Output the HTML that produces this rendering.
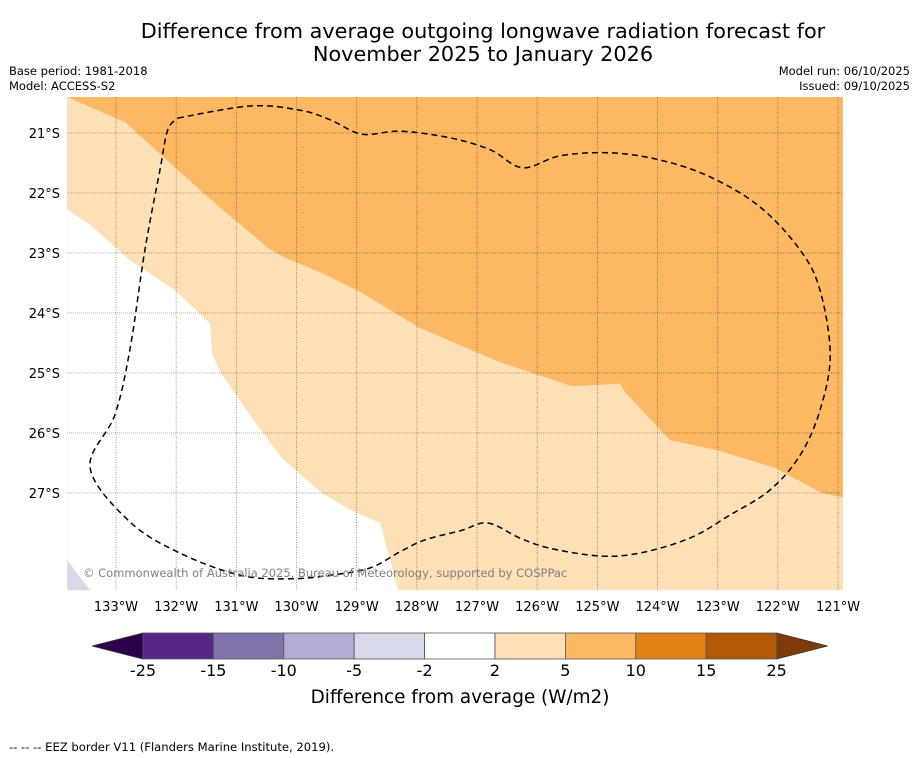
<!DOCTYPE html>
<html><head><meta charset="utf-8">
<style>
body{margin:0;background:#fff;font-family:"DejaVu Sans","Liberation Sans",sans-serif;}
svg{display:block}
</style></head>
<body>
<svg id="chart" width="919" height="758" viewBox="0 0 919 758" xmlns="http://www.w3.org/2000/svg" font-family="DejaVu Sans, Liberation Sans, sans-serif">
<text x="483" y="38" font-size="20.8" text-anchor="middle">Difference from average outgoing longwave radiation forecast for</text>
<text x="483" y="61" font-size="20.8" text-anchor="middle">November 2025 to January 2026</text>
<text x="9" y="75" font-size="11.5">Base period: 1981-2018</text>
<text x="9" y="90" font-size="11.5">Model: ACCESS-S2</text>
<text x="910" y="75" font-size="11.5" text-anchor="end">Model run: 06/10/2025</text>
<text x="910" y="90" font-size="11.5" text-anchor="end">Issued: 09/10/2025</text>
<g id="map"></g>
<g id="cbar"></g>
<text x="460" y="703" font-size="18.4" text-anchor="middle">Difference from average (W/m2)</text>
<text x="9" y="751" font-size="11.6">--  --  -- EEZ border V11 (Flanders Marine Institute, 2019).</text>
</svg>
<script>
const lonMin=-133.81, lonMax=-120.92, latTop=-20.40, latBot=-28.62;
const lonTicks=[-133,-132,-131,-130,-129,-128,-127,-126,-125,-124,-123,-122,-121];
const latTicks=[-21,-22,-23,-24,-25,-26,-27];
const orangeLon=[-133.81,-132.85,-131.52,-130.47,-130.19,-129.61,-128.94,-127.95,-126.62,-125.42,-124.62,-124.54,-123.79,-123.04,-122.05,-121.27,-120.92];
const orangeLat=[-20.40,-20.82,-22.03,-22.92,-23.08,-23.32,-23.65,-24.25,-24.82,-25.22,-25.18,-25.32,-26.12,-26.28,-26.58,-27.00,-27.07];
const whiteLon=[-133.81,-133.43,-132.77,-132.02,-131.44,-131.40,-131.27,-130.69,-130.24,-129.58,-129.11,-128.61,-128.31];
const whiteLat=[-22.28,-22.53,-23.12,-23.62,-24.17,-24.70,-24.98,-25.82,-26.42,-27.00,-27.28,-27.50,-28.62];
const lavLon=[-133.81,-133.43,-133.81];
const lavLat=[-28.12,-28.62,-28.62];
const eezLon=[-131.97,-130.77,-129.94,-129.44,-128.91,-128.28,-127.45,-126.78,-126.24,-125.62,-124.79,-123.96,-123.13,-122.30,-121.63,-121.30,-121.13,-121.30,-121.63,-122.13,-122.80,-123.46,-124.29,-124.96,-125.79,-126.29,-126.82,-127.28,-127.86,-128.28,-128.78,-129.44,-130.11,-130.94,-131.94,-132.77,-133.43,-133.02,-132.77,-132.52,-132.27,-132.14,-131.97];
const eezLat=[-20.75,-20.55,-20.62,-20.78,-21.02,-20.97,-21.08,-21.28,-21.58,-21.38,-21.33,-21.45,-21.73,-22.23,-22.95,-23.62,-24.70,-25.62,-26.37,-26.95,-27.37,-27.75,-28.00,-28.05,-27.92,-27.75,-27.50,-27.63,-27.78,-27.98,-28.25,-28.37,-28.43,-28.37,-28.00,-27.48,-26.58,-25.70,-24.62,-22.95,-21.62,-20.95,-20.75];
const cbLevels=["-25","-15","-10","-5","-2","2","5","10","15","25"];
const cbColors=["#542788","#8073ac","#b2abd2","#d8daeb","#ffffff","#fee0b6","#fdb863","#e08214","#b35806"];
const cbLow="#2d004b", cbHigh="#7f3b08";

const X0=67,X1=843,Y0=97,Y1=590;
const xs=lon=>116+(lon+133)*60.17;
const ys=lat=>133+(-21-lat)*60;
const NS="http://www.w3.org/2000/svg";
function mk(parent,tag,attrs){const e=document.createElementNS(NS,tag);for(const k in attrs)e.setAttribute(k,attrs[k]);parent.appendChild(e);return e;}
const map=document.getElementById('map');
let bg=mk(map,'rect',{x:X0,y:Y0,width:X1-X0,height:Y1-Y0,fill:'#fee0b6'});


function pts(lo,la){return lo.map((v,i)=>xs(v).toFixed(1)+','+ys(la[i]).toFixed(1));}
let op=pts(orangeLon,orangeLat);op.push(xs(lonMax)+','+ys(latTop));
let o=mk(map,'polygon',{points:op.join(' '),fill:'#fdb863'});


let wp=pts(whiteLon,whiteLat);wp.push(xs(lonMin)+','+ys(latBot));
let w=mk(map,'polygon',{points:wp.join(' '),fill:'#ffffff'});


let l=mk(map,'polygon',{points:pts(lavLon,lavLat).join(' '),fill:'#d8daeb'});


lonTicks.forEach(v=>{
  const x=xs(v);
  let g=mk(map,'line',{x1:x,x2:x,y1:Y0,y2:Y1,stroke:'rgba(0,0,0,0.5)','stroke-width':0.8,'stroke-dasharray':'1,1.5'});
  
  
  let t=mk(map,'text',{x:x,y:611,'font-size':13,'text-anchor':'middle'});t.textContent=Math.abs(v)+'°W';
  
  
});
latTicks.forEach(v=>{
  const y=ys(v);
  let g=mk(map,'line',{x1:X0,x2:X1,y1:y,y2:y,stroke:'rgba(0,0,0,0.4)','stroke-width':0.8,'stroke-dasharray':'1,1'});
  
  
  let t=mk(map,'text',{x:60,y:y+5,'font-size':13,'text-anchor':'end'});t.textContent=Math.abs(v)+'°S';
  
  
});
function spline(lo,la){
  const P=lo.map((v,i)=>[xs(v),ys(la[i])]);
  let d='M'+P[0][0].toFixed(1)+','+P[0][1].toFixed(1);
  for(let i=0;i<P.length-1;i++){
    const p0=P[Math.max(0,i-1)],p1=P[i],p2=P[i+1],p3=P[Math.min(P.length-1,i+2)];
    const t=0.35/2*2/2*2;
    const c1=[p1[0]+(p2[0]-p0[0])/6,p1[1]+(p2[1]-p0[1])/6];
    const c2=[p2[0]-(p3[0]-p1[0])/6,p2[1]-(p3[1]-p1[1])/6];
    d+=` C${c1[0].toFixed(1)},${c1[1].toFixed(1)} ${c2[0].toFixed(1)},${c2[1].toFixed(1)} ${p2[0].toFixed(1)},${p2[1].toFixed(1)}`;
  }
  return d;
}
let e=mk(map,'path',{d:spline(eezLon,eezLat),fill:'none',stroke:'#000','stroke-width':1.5,'stroke-dasharray':'6,4'});


let wm=mk(map,'text',{x:83,y:577,'font-size':11.5,fill:'#808080'});wm.textContent='© Commonwealth of Australia 2025, Bureau of Meteorology, supported by COSPPac';



const cb=document.getElementById('cbar');
const cx0=143,cw=70.4,cy=633,ch=26;
let lt=mk(cb,'polygon',{points:`${cx0},${cy} ${cx0},${cy+ch} 92,${cy+ch/2}`,fill:cbLow,stroke:'#333','stroke-width':0.8});


let re=cx0+cw*cbColors.length;
let rt=mk(cb,'polygon',{points:`${re},${cy} ${re},${cy+ch} ${re+51},${cy+ch/2}`,fill:cbHigh,stroke:'#333','stroke-width':0.8});


cbColors.forEach((c,i)=>{
  let r=mk(cb,'rect',{x:cx0+i*cw,y:cy,width:cw,height:ch,fill:c,stroke:'#555','stroke-width':0.8});
  
  
});
cbLevels.forEach((s,i)=>{
  let t=mk(cb,'text',{x:cx0+i*cw,y:676,'font-size':16,'text-anchor':'middle'});t.textContent=s;
  
  
});
</script>
</body></html>
